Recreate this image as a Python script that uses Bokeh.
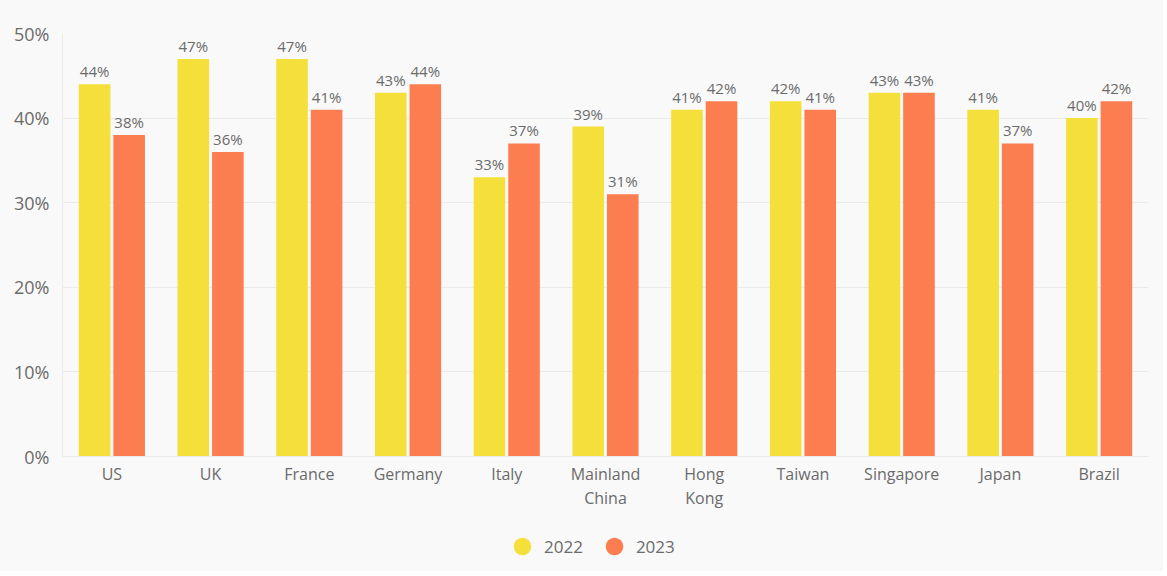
from bokeh.plotting import figure
from bokeh.layouts import column
from bokeh.models import ColumnDataSource, Legend, LegendItem, NumeralTickFormatter, FixedTicker
from bokeh.transform import dodge
from bokeh.core.properties import value
from bokeh.embed import file_html
from bokeh.resources import INLINE

countries = ["US", "UK", "France", "Germany", "Italy", "Mainland\nChina", "Hong\nKong",
             "Taiwan", "Singapore", "Japan", "Brazil"]
v2022 = [0.44, 0.47, 0.47, 0.43, 0.33, 0.39, 0.41, 0.42, 0.43, 0.41, 0.40]
v2023 = [0.38, 0.36, 0.41, 0.44, 0.37, 0.31, 0.42, 0.41, 0.43, 0.37, 0.42]
y_ticks = [0, 0.1, 0.2, 0.3, 0.4, 0.5]
series = ["2022", "2023"]

C22 = "#F5E03B"
C23 = "#FC7D4F"
BG = "#F9F9F9"
TXT = "#6B6B6B"
FONT = "Open Sans"

src = ColumnDataSource(dict(
    c=countries, a=v2022, b=v2023,
    la=[f"{round(v*100)}%" for v in v2022],
    lb=[f"{round(v*100)}%" for v in v2023],
))

p = figure(x_range=countries, y_range=(0, 0.5), frame_width=1086, frame_height=423,
           output_backend="svg", toolbar_location=None,
           min_border_left=62, min_border_right=15, min_border_top=33, min_border_bottom=10,
           background_fill_color=BG, border_fill_color=BG, outline_line_color=None)

p.vbar(x=dodge("c", -0.175, range=p.x_range), top="a", width=0.32, source=src,
       fill_color=C22, line_color=None)
p.vbar(x=dodge("c", 0.175, range=p.x_range), top="b", width=0.32, source=src,
       fill_color=C23, line_color=None)

p.text(x=dodge("c", -0.175, range=p.x_range), y="a", text="la", source=src,
       text_align="center", text_baseline="bottom", y_offset=-3,
       text_font=value(FONT), text_font_size="15px", text_color=TXT)
p.text(x=dodge("c", 0.175, range=p.x_range), y="b", text="lb", source=src,
       text_align="center", text_baseline="bottom", y_offset=-3,
       text_font=value(FONT), text_font_size="15px", text_color=TXT)

p.yaxis.ticker = FixedTicker(ticks=y_ticks)
p.yaxis.formatter = NumeralTickFormatter(format="0%")
for ax in (p.xaxis[0], p.yaxis[0]):
    ax.major_label_text_font = FONT
    ax.major_label_text_color = TXT
    ax.major_tick_line_color = None
    ax.minor_tick_line_color = None
    ax.axis_line_color = "#EBEBEB"
p.yaxis.major_label_text_font_size = "18px"
p.xaxis.major_label_text_font_size = "16px"
p.yaxis.major_label_standoff = 7
p.xaxis.major_label_standoff = 0
p.xaxis.major_label_text_line_height = 1.1

p.xgrid.grid_line_color = None
p.ygrid.grid_line_color = "#EBEBEB"

# legend in a small figure below
lg = figure(width=1163, height=60, x_range=(0, 1), y_range=(0, 1),
            output_backend="svg", toolbar_location=None,
            min_border=0, background_fill_color=BG, border_fill_color=BG, outline_line_color=None)
lg.axis.visible = False
lg.grid.visible = False
d1 = lg.scatter(x=[-5], y=[-5], marker="circle", size=18, fill_color=C22, line_color=None)
d2 = lg.scatter(x=[-5], y=[-5], marker="circle", size=18, fill_color=C23, line_color=None)
legend = Legend(items=[LegendItem(label=series[0], renderers=[d1]),
                       LegendItem(label=series[1], renderers=[d2])],
                orientation="horizontal", location=(438, 3))
legend.label_text_font = FONT
legend.label_text_font_size = "17px"
legend.label_text_color = TXT
legend.background_fill_alpha = 0
legend.border_line_color = None
legend.spacing = 9
legend.glyph_width = 44
legend.glyph_height = 44
legend.label_standoff = 0
legend.padding = 0
legend.margin = 0
lg.add_layout(legend)

layout = column(p, lg, spacing=0, background=BG)
open("out.html", "w").write(file_html(layout, INLINE))
